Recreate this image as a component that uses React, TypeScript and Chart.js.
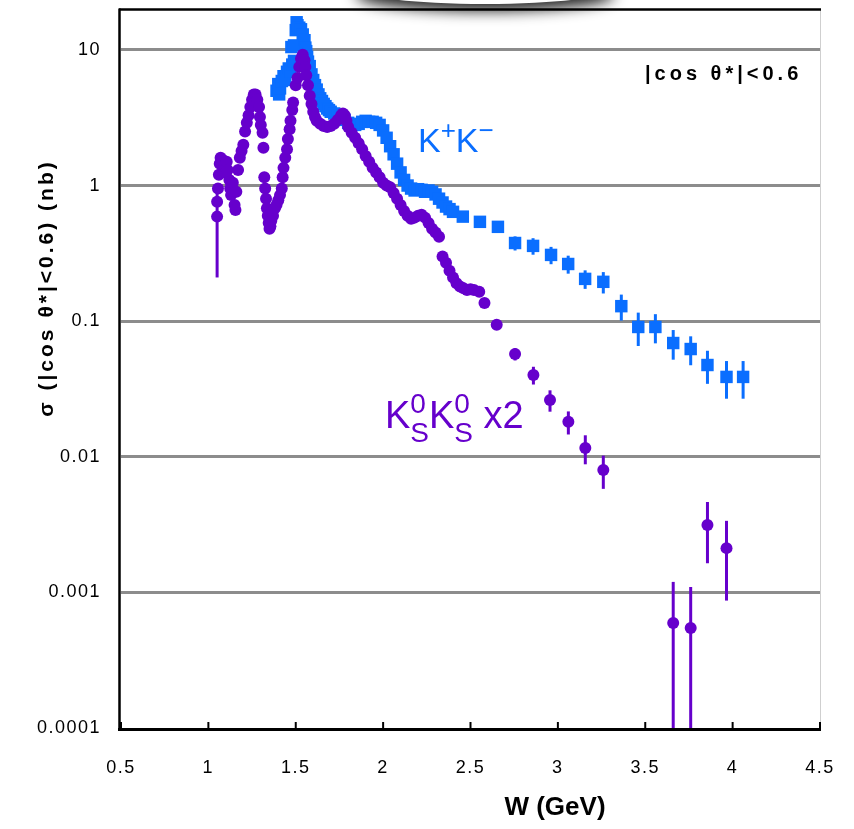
import React, { useEffect, useRef } from 'react';
import { Chart, registerables } from 'chart.js';

Chart.register(...registerables);

// ---------- data ----------
// K+K- cross section (nb) vs W (GeV)
const kkW = [
  1.39, 1.40, 1.405, 1.41, 1.42, 1.43, 1.44, 1.45, 1.46, 1.47, 1.475, 1.48, 1.49, 1.49, 1.50, 1.505, 1.51, 1.52, 1.53, 1.54,
  1.55, 1.555, 1.56, 1.565, 1.57, 1.58, 1.59, 1.60, 1.61, 1.62, 1.63, 1.64, 1.65, 1.66, 1.67, 1.68, 1.69, 1.70, 1.72, 1.74,
  1.76, 1.78, 1.80, 1.82, 1.84, 1.86, 1.88, 1.90, 1.92, 1.94, 1.96, 1.98, 2.00, 2.02, 2.04, 2.06, 2.08, 2.10, 2.12, 2.14,
  2.16, 2.18, 2.20, 2.22, 2.24, 2.26, 2.28, 2.30, 2.32, 2.34, 2.36, 2.38, 2.40, 2.456, 2.554, 2.657, 2.755, 2.858, 2.961, 3.059,
  3.156, 3.26, 3.363, 3.46, 3.558, 3.66, 3.76, 3.856, 3.965, 4.06,
];
const kkSigma = [
  5.0, 5.6, 4.7, 5.2, 5.9, 6.4, 6.0, 6.9, 7.3, 7.0, 10.5, 7.8, 8.3, 10.8, 14.0, 16.0, 15.2, 14.6, 14.2, 13.0,
  11.8, 10.4, 9.8, 8.9, 8.2, 7.6, 6.6, 6.0, 5.5, 5.1, 4.7, 4.4, 4.2, 4.0, 3.85, 3.7, 3.6, 3.5, 3.4, 3.3,
  3.2, 3.05, 2.9, 2.8, 2.8, 2.85, 2.95, 3.0, 2.95, 2.95, 2.9, 2.8, 2.55, 2.25, 1.95, 1.7, 1.45, 1.25, 1.1, 1.0,
  0.95, 0.92, 0.94, 0.93, 0.9, 0.92, 0.9, 0.86, 0.8, 0.75, 0.7, 0.67, 0.64, 0.59, 0.54, 0.496, 0.377, 0.359, 0.308, 0.264,
  0.205, 0.195, 0.129, 0.0906, 0.0906, 0.069, 0.0623, 0.0475, 0.0388, 0.0388,
];
const kkErr = [
  0, 0, 0, 0, 0, 0, 0, 0, 0, 0, 0, 0, 0, 0, 0, 0, 0, 0, 0, 0,
  0, 0, 0, 0, 0, 0, 0, 0, 0, 0, 0, 0, 0, 0, 0, 0, 0, 0, 0, 0,
  0, 0, 0, 0, 0, 0, 0, 0, 0, 0, 0, 0, 0, 0, 0, 0, 0, 0, 0, 0,
  0, 0, 0, 0, 0, 0, 0, 0, 0, 0, 0, 0, 0, 0.03, 0.04, 0.045, 0.045, 0.05, 0.045, 0.04,
  0.032, 0.035, 0.028, 0.025, 0.022, 0.017, 0.015, 0.013, 0.012, 0.012,
];

// KsKs cross section x2 (nb) vs W (GeV)
const ksW = [
  1.05, 1.05, 1.055, 1.06, 1.065, 1.07, 1.08, 1.09, 1.10, 1.105, 1.11, 1.12, 1.125, 1.13, 1.14, 1.15, 1.155, 1.16, 1.17, 1.18,
  1.19, 1.20, 1.21, 1.22, 1.23, 1.24, 1.25, 1.26, 1.27, 1.28, 1.29, 1.295, 1.30, 1.31, 1.315, 1.32, 1.325, 1.33, 1.335, 1.34,
  1.345, 1.35, 1.355, 1.36, 1.37, 1.38, 1.39, 1.40, 1.41, 1.42, 1.425, 1.43, 1.44, 1.45, 1.455, 1.465, 1.47, 1.48, 1.485, 1.50,
  1.51, 1.52, 1.53, 1.54, 1.55, 1.555, 1.56, 1.57, 1.58, 1.59, 1.60, 1.61, 1.62, 1.64, 1.66, 1.68, 1.70, 1.72, 1.74, 1.76,
  1.77, 1.78, 1.79, 1.80, 1.82, 1.84, 1.86, 1.88, 1.90, 1.92, 1.94, 1.96, 1.98, 2.00, 2.02, 2.04, 2.06, 2.08, 2.10, 2.12,
  2.14, 2.16, 2.18, 2.20, 2.22, 2.24, 2.26, 2.28, 2.30, 2.32, 2.34, 2.36, 2.38, 2.40, 2.42, 2.44, 2.46, 2.48, 2.50, 2.52,
  2.55, 2.58, 2.65, 2.755, 2.86, 2.955, 3.06, 3.157, 3.26, 3.66, 3.76, 3.856, 3.965,
];
const ksSigma = [
  0.59, 0.76, 0.95, 1.2, 1.45, 1.6, 1.55, 1.4, 1.25, 1.5, 1.3, 1.1, 0.95, 0.85, 1.05, 0.72, 0.66, 0.9, 1.3, 1.6,
  1.8, 2.0, 2.5, 2.9, 3.3, 3.8, 4.3, 4.7, 4.7, 4.3, 3.8, 3.2, 2.8, 2.45, 1.9, 1.15, 0.95, 0.8, 0.68, 0.6,
  0.53, 0.48, 0.5, 0.55, 0.6, 0.68, 0.72, 0.78, 0.85, 0.95, 1.15, 1.35, 1.6, 1.85, 2.2, 2.6, 3.0, 3.6, 4.1, 5.5,
  6.2, 7.5, 8.6, 9.2, 8.4, 7.5, 6.5, 5.5, 4.6, 4.0, 3.5, 3.2, 3.0, 2.85, 2.75, 2.7, 2.75, 2.85, 3.05, 3.3,
  3.4, 3.3, 3.0, 2.7, 2.45, 2.25, 2.05, 1.85, 1.65, 1.5, 1.35, 1.25, 1.15, 1.05, 1.0, 0.97, 0.88, 0.8, 0.72, 0.65,
  0.6, 0.57, 0.58, 0.6, 0.61, 0.58, 0.53, 0.48, 0.45, 0.42, 0.3, 0.27, 0.235, 0.21, 0.19, 0.18, 0.175, 0.17, 0.172, 0.17,
  0.165, 0.136, 0.094, 0.0573, 0.0401, 0.0262, 0.0181, 0.0116, 0.008, 0.000595, 0.000546, 0.00314, 0.00212,
];
const ksErr = [
  0.38, 0, 0, 0, 0, 0, 0, 0, 0, 0, 0, 0, 0, 0, 0, 0, 0, 0, 0, 0,
  0, 0, 0, 0, 0, 0, 0, 0, 0, 0, 0, 0, 0, 0, 0, 0, 0, 0, 0, 0,
  0, 0, 0, 0, 0, 0, 0, 0, 0, 0, 0, 0, 0, 0, 0, 0, 0, 0, 0, 0,
  0, 0, 0, 0, 0, 0, 0, 0, 0, 0, 0, 0, 0, 0, 0, 0, 0, 0, 0, 0,
  0, 0, 0, 0, 0, 0, 0, 0, 0, 0, 0, 0, 0, 0, 0, 0, 0, 0, 0, 0,
  0, 0, 0, 0, 0, 0, 0, 0, 0, 0, 0, 0, 0, 0, 0, 0, 0, 0, 0, 0,
  0.01, 0.01, 0.007, 0.006, 0.006, 0.0047, 0.0035, 0.0028, 0.0022, 0.0006, 0.00055, 0.0015, 0.00125,
];

const xTicks = [0.5, 1, 1.5, 2, 2.5, 3, 3.5, 4, 4.5];
const xTickLabels = ['0.5', '1', '1.5', '2', '2.5', '3', '3.5', '4', '4.5'];
const yTicks = [0.0001, 0.001, 0.01, 0.1, 1, 10];
const yTickLabels = ['0.0001', '0.001', '0.01', '0.1', '1', '10'];

const xTitle = 'W (GeV)';
const yTitle = 'σ (|cos θ*|<0.6) (nb)';
const cutLabel = '|cos θ*|<0.6';

const BLUE = '#0a6eff';
const PURPLE = '#6600cc';
const FONT = '"Liberation Sans", Arial, sans-serif';

const seriesForErrors = [
  { w: ksW, s: ksSigma, e: ksErr, color: PURPLE },
  { w: kkW, s: kkSigma, e: kkErr, color: BLUE },
];

const errorBarPlugin = {
  id: 'errorBars',
  beforeDatasetsDraw(chart: any) {
    const { ctx, chartArea, scales } = chart;
    const xs = scales.x;
    const ys = scales.y;
    ctx.save();
    ctx.beginPath();
    ctx.rect(chartArea.left, chartArea.top, chartArea.right - chartArea.left, chartArea.bottom - chartArea.top);
    ctx.clip();
    ctx.lineWidth = 3;
    for (const ser of seriesForErrors) {
      ctx.strokeStyle = ser.color;
      ser.w.forEach((w: number, i: number) => {
        const e = ser.e[i];
        if (!e) return;
        const v = ser.s[i];
        const px = xs.getPixelForValue(w);
        const top = ys.getPixelForValue(v + e);
        const bot = v - e > 0 ? ys.getPixelForValue(v - e) : chartArea.bottom;
        ctx.beginPath();
        ctx.moveTo(px, top);
        ctx.lineTo(px, bot);
        ctx.stroke();
      });
    }
    ctx.restore();
  },
};

const framePlugin = {
  id: 'frame',
  beforeDraw(chart: any) {
    const { ctx } = chart;
    ctx.save();
    ctx.shadowColor = 'rgba(0,0,0,0.85)';
    ctx.shadowBlur = 14;
    ctx.shadowOffsetY = 7;
    ctx.fillStyle = '#ffffff';
    ctx.beginPath();
    ctx.ellipse(485, -12, 130, 16, 0, 0, Math.PI * 2);
    ctx.fill();
    ctx.restore();
    // spacing for the tick labels drawn by the library
    (ctx as any).letterSpacing = '1.5px';
  },
  afterDatasetsDraw(chart: any) {
    const { ctx, chartArea, scales } = chart;
    const { left, right, top, bottom } = chartArea;
    ctx.save();
    ctx.strokeStyle = '#cfcfcf';
    ctx.lineWidth = 1;
    ctx.beginPath();
    ctx.moveTo(right + 0.5, top);
    ctx.lineTo(right + 0.5, bottom);
    ctx.stroke();
    ctx.strokeStyle = '#000';
    ctx.lineWidth = 2.5;
    ctx.beginPath();
    ctx.moveTo(left - 2, top - 0.5);
    ctx.lineTo(right + 1, top - 0.5);
    ctx.stroke();
    ctx.beginPath();
    ctx.moveTo(left - 1.5, top - 1.5);
    ctx.lineTo(left - 1.5, bottom + 2);
    ctx.stroke();
    ctx.lineWidth = 3;
    ctx.beginPath();
    ctx.moveTo(left - 3, bottom + 1.5);
    ctx.lineTo(right + 1, bottom + 1.5);
    ctx.stroke();
    ctx.lineWidth = 2;
    for (const t of xTicks) {
      const px = scales.x.getPixelForValue(t);
      ctx.beginPath();
      ctx.moveTo(px, bottom);
      ctx.lineTo(px, bottom - 6);
      ctx.stroke();
    }
    ctx.restore();
  },
  afterDraw(chart: any) {
    const { ctx } = chart;
    ctx.save();
    ctx.fillStyle = '#000';
    ctx.letterSpacing = '3px';
    ctx.font = `bold 21px ${FONT}`;
    ctx.textAlign = 'center';
    ctx.textBaseline = 'middle';
    ctx.save();
    ctx.translate(47, 288);
    ctx.rotate(-Math.PI / 2);
    ctx.fillText(yTitle, 0, 0);
    ctx.restore();
    ctx.letterSpacing = '0px';
    ctx.font = `bold 26px ${FONT}`;
    ctx.fillText(xTitle, 555, 808);
    ctx.letterSpacing = '4px';
    ctx.font = `bold 20px ${FONT}`;
    ctx.textAlign = 'left';
    ctx.fillText(cutLabel, 645, 74);

    ctx.letterSpacing = '0px';
    ctx.textBaseline = 'alphabetic';
    let x = 418;
    const by = 152;
    ctx.fillStyle = BLUE;
    ctx.font = `34px ${FONT}`;
    ctx.fillText('K', x, by);
    x += ctx.measureText('K').width;
    ctx.font = `26px ${FONT}`;
    ctx.fillText('+', x, by - 13);
    x += ctx.measureText('+').width;
    ctx.font = `34px ${FONT}`;
    ctx.fillText('K', x, by);
    x += ctx.measureText('K').width;
    ctx.font = `26px ${FONT}`;
    ctx.fillText('\u2212', x, by - 13);

    ctx.fillStyle = PURPLE;
    let kx = 385;
    const ky = 428;
    for (let k = 0; k < 2; k++) {
      ctx.font = `38px ${FONT}`;
      ctx.fillText('K', kx, ky);
      kx += ctx.measureText('K').width;
      ctx.font = `28px ${FONT}`;
      ctx.fillText('0', kx, ky - 15);
      ctx.fillText('S', kx, ky + 14);
      kx += Math.max(ctx.measureText('0').width, ctx.measureText('S').width);
    }
    ctx.font = `38px ${FONT}`;
    ctx.fillText(' x2', kx, ky);
    ctx.restore();
  },
};

export default function App() {
  const ref = useRef<HTMLCanvasElement>(null);
  useEffect(() => {
    const chart = new Chart(ref.current as HTMLCanvasElement, {
      type: 'scatter',
      data: {
        datasets: [
          {
            label: 'KsKs x2',
            data: ksW.map((w, i) => ({ x: w, y: ksSigma[i] })),
            pointStyle: 'circle',
            pointRadius: 6,
            backgroundColor: PURPLE,
            borderWidth: 0,
            showLine: false,
          },
          {
            label: 'K+K-',
            data: kkW.map((w, i) => ({ x: w, y: kkSigma[i] })),
            pointStyle: 'rect',
            pointRadius: 8.8,
            backgroundColor: BLUE,
            borderWidth: 0,
            showLine: false,
          },
        ],
      },
      options: {
        animation: false,
        responsive: false,
        events: [],
        layout: { padding: { top: 10, right: 34, left: 0, bottom: 0 } },
        plugins: { legend: { display: false }, tooltip: { enabled: false }, title: { display: false } },
        scales: {
          x: {
            type: 'linear',
            min: 0.5,
            max: 4.5,
            afterBuildTicks: (s: any) => {
              s.ticks = xTicks.map((v) => ({ value: v }));
            },
            afterFit: (s: any) => {
              s.height = 101;
              s.paddingLeft = 0;
              s.paddingRight = 0;
            },
            grid: { display: false, drawTicks: false },
            border: { display: false },
            ticks: {
              padding: 31,
              color: '#000',
              font: { family: FONT, size: 18, lineHeight: 1 },
              maxRotation: 0,
              autoSkip: false,
              callback: (v: any) => xTickLabels[xTicks.indexOf(Number(v))] ?? '',
            },
          },
          y: {
            type: 'logarithmic',
            min: 0.0001,
            max: 19.7,
            afterBuildTicks: (s: any) => {
              s.ticks = yTicks.map((v) => ({ value: v }));
            },
            afterFit: (s: any) => {
              s.width = 121;
              s.paddingTop = 0;
              s.paddingBottom = 0;
            },
            grid: {
              color: (c: any) => (c.tick && c.tick.value < 0.0005 ? 'rgba(0,0,0,0)' : '#8c8c8c'),
              lineWidth: 3,
              drawTicks: false,
            },
            border: { display: false },
            ticks: {
              padding: 20,
              color: '#000',
              font: { family: FONT, size: 18, lineHeight: 1 },
              autoSkip: false,
              callback: (v: any) => yTickLabels[yTicks.indexOf(Number(v))] ?? '',
            },
          },
        },
      },
      plugins: [errorBarPlugin, framePlugin],
    } as any);
    return () => chart.destroy();
  }, []);
  return (
    <div style={{ position: 'absolute', left: 0, top: 0, width: 854, height: 829, background: '#fff' }}>
      <canvas ref={ref} width={854} height={829} style={{ display: 'block', width: 854, height: 829 }} />
    </div>
  );
}
